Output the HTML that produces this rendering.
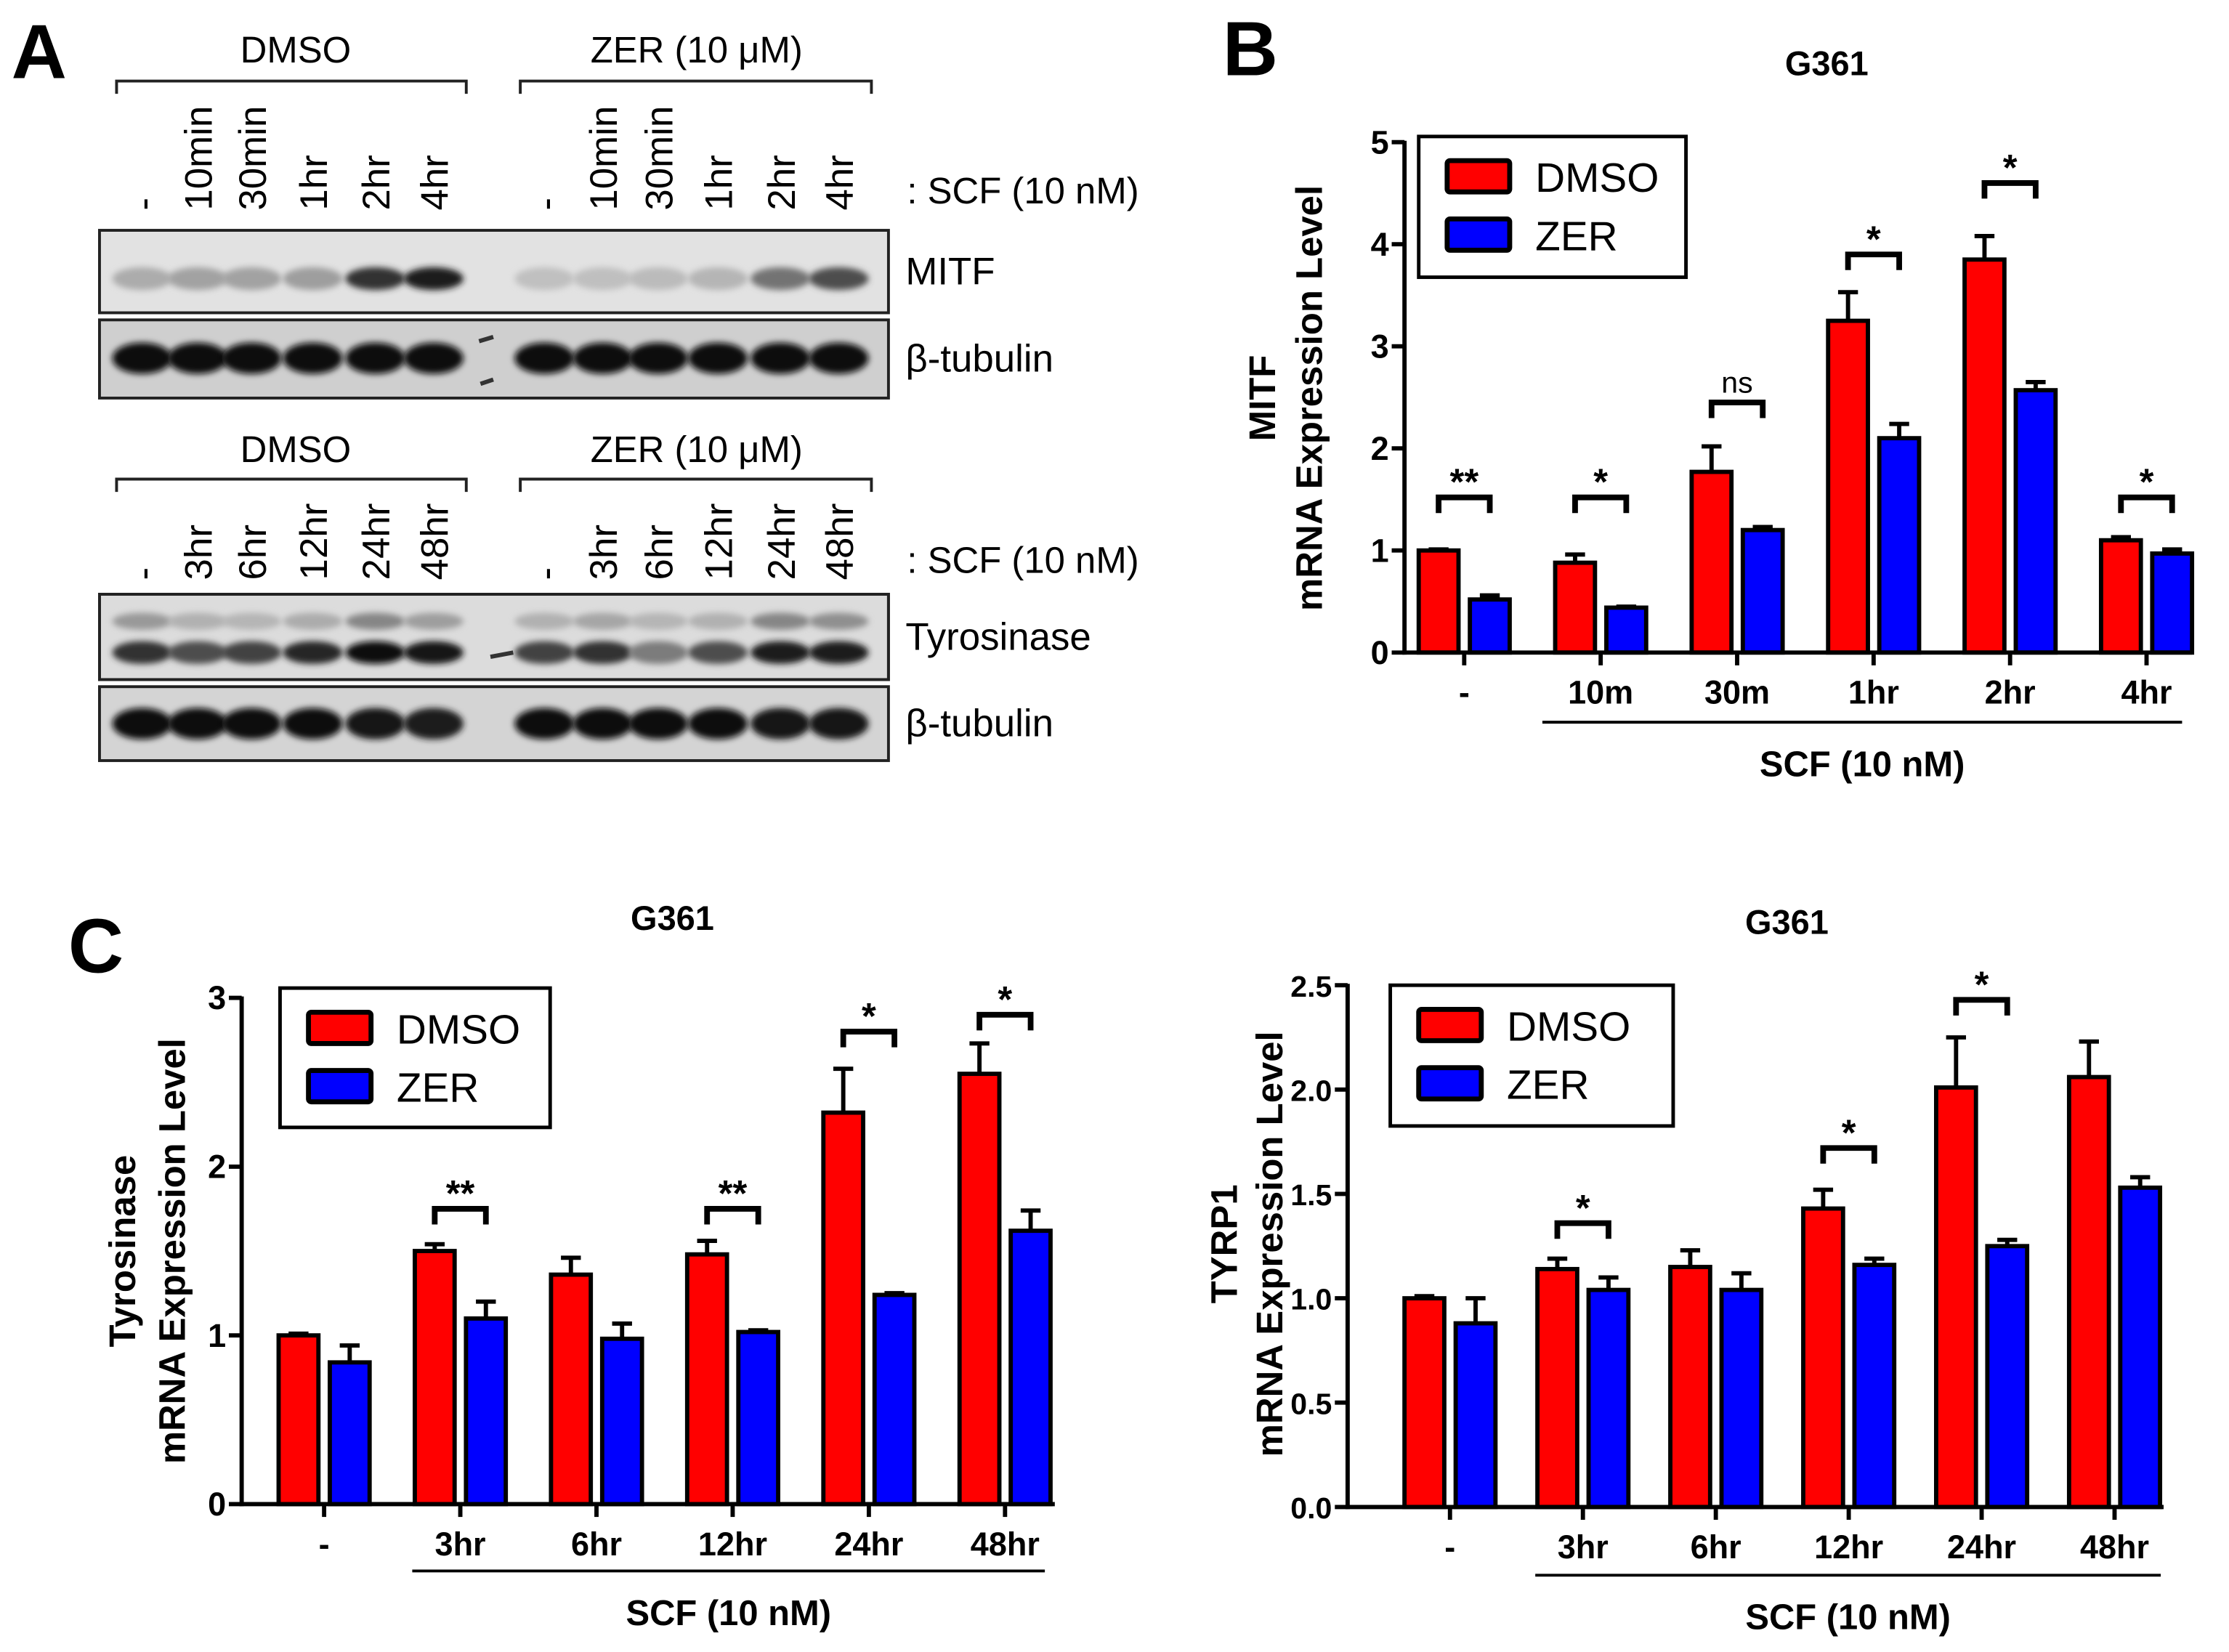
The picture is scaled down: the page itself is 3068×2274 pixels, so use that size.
<!DOCTYPE html>
<html><head><meta charset="utf-8">
<style>
html,body{margin:0;padding:0;background:#fff;}
svg{display:block;}
text{font-family:"Liberation Sans",Arial,sans-serif;}
</style></head>
<body>
<svg id="fig" width="3068" height="2274" viewBox="0 0 1568 1162" preserveAspectRatio="none" xmlns="http://www.w3.org/2000/svg">
<defs>
<filter id="blur" x="-20%" y="-50%" width="140%" height="200%"><feGaussianBlur stdDeviation="2.2"/></filter>
</defs>
<rect width="1568" height="1162" fill="#fff"/>
<g id="panelA"></g>
<g id="panelB"></g>
<g id="panelC1"></g>
<g id="panelC2"></g>
</svg>
<script>
// ---- Chart data ----
const mitfCategories = ["-", "10m", "30m", "1hr", "2hr", "4hr"];
const mitfDmso = [1.0, 0.88, 1.77, 3.25, 3.85, 1.10];
const mitfDmsoErr = [0.01, 0.08, 0.25, 0.28, 0.23, 0.03];
const mitfZer = [0.52, 0.44, 1.20, 2.10, 2.57, 0.97];
const mitfZerErr = [0.04, 0.01, 0.03, 0.14, 0.08, 0.04];
const mitfSigLabels = ["**", "*", "ns", "*", "*", "*"];
const mitfSigLevels = [1.52, 1.52, 2.45, 3.9, 4.6, 1.52];
const mitfTicks = ["0", "1", "2", "3", "4", "5"];
const mitfTickValues = [0, 1, 2, 3, 4, 5];

const tyrCategories = ["-", "3hr", "6hr", "12hr", "24hr", "48hr"];
const tyrDmso = [1.0, 1.50, 1.36, 1.48, 2.32, 2.55];
const tyrDmsoErr = [0.01, 0.04, 0.10, 0.08, 0.26, 0.18];
const tyrZer = [0.84, 1.10, 0.98, 1.02, 1.24, 1.62];
const tyrZerErr = [0.10, 0.10, 0.09, 0.01, 0.01, 0.12];
const tyrSigLabels = ["", "**", "", "**", "*", "*"];
const tyrSigLevels = [0, 1.75, 0, 1.75, 2.8, 2.9];
const tyrTicks = ["0", "1", "2", "3"];
const tyrTickValues = [0, 1, 2, 3];

const trpCategories = ["-", "3hr", "6hr", "12hr", "24hr", "48hr"];
const trpDmso = [1.0, 1.14, 1.15, 1.43, 2.01, 2.06];
const trpDmsoErr = [0.01, 0.05, 0.08, 0.09, 0.24, 0.17];
const trpZer = [0.88, 1.04, 1.04, 1.16, 1.25, 1.53];
const trpZerErr = [0.12, 0.06, 0.08, 0.03, 0.03, 0.05];
const trpSigLabels = ["", "*", "", "*", "*", ""];
const trpSigLevels = [0, 1.36, 0, 1.72, 2.43, 0];
const trpTicks = ["0.0", "0.5", "1.0", "1.5", "2.0", "2.5"];
const trpTickValues = [0, 0.5, 1.0, 1.5, 2.0, 2.5];

// blot band intensities (0..1)
const mitfBands = [0.15,0.2,0.2,0.22,0.8,0.9, 0.04,0.05,0.07,0.1,0.45,0.65];
const tubBands1 = [1,1,1,1,1,1, 1,1,1,1,1,1];
const tyrUpper = [0.25,0.12,0.1,0.15,0.35,0.22, 0.12,0.18,0.1,0.12,0.35,0.3];
const tyrLower = [0.8,0.65,0.7,0.85,1,0.95, 0.7,0.8,0.4,0.65,0.9,0.9];
const tubBands2 = [1,1,1,1,0.95,0.9, 1,1,1,1,0.95,0.95];
const lanes1 = ["-","10min","30min","1hr","2hr","4hr","-","10min","30min","1hr","2hr","4hr"];
const lanes2 = ["-","3hr","6hr","12hr","24hr","48hr","-","3hr","6hr","12hr","24hr","48hr"];

const NS = "http://www.w3.org/2000/svg";
function mk(parent, tag, attrs, txt){
  const e = document.createElementNS(NS, tag);
  for (const k in attrs) e.setAttribute(k, attrs[k]);
  if (txt !== undefined) e.textContent = txt;
  parent.appendChild(e);
  return e;
}

// ---- Panel A ----
const A = document.getElementById('panelA');
let t = mk(A,'text',{x:8,y:55,'font-size':54,'font-weight':'bold'},'A');


const laneX = [100,139,177,220,264,305, 383,424,463,505,549,590];
function groupHeader(y, bracketY){
  [[208,82,328,'DMSO'],[490,366,613,'ZER (10 μM)']].forEach(g=>{
    let tx = mk(A,'text',{x:g[0],y:y,'font-size':26,'text-anchor':'middle'},g[3]);
    
    
    let p = mk(A,'path',{d:`M${g[1]} ${bracketY+9} V${bracketY} H${g[2]} V${bracketY+9}`,fill:'none',stroke:'#222','stroke-width':2});
    
    
  });
}
function laneLabels(labels, baseY, scfY){
  labels.forEach((l,i)=>{
    let tx = mk(A,'text',{x:0,y:0,'font-size':27,transform:`translate(${laneX[i]+10},${baseY}) rotate(-90)`},l);
    
    
  });
  let s = mk(A,'text',{x:638,y:scfY,'font-size':26},': SCF (10 nM)');
  
  
}
function blot(y, h, bands, bandY, bandH, name, label, bg){
  let r = mk(A,'rect',{x:70,y:y,width:555,height:h,fill:bg,stroke:'#222','stroke-width':2});
  
  
  bands.forEach((v,i)=>{
    const c = Math.round(200 - v*190);
    let b = mk(A,'ellipse',{cx:laneX[i],cy:bandY,rx:21,ry:bandH,fill:`rgb(${c},${c},${c})`,filter:'url(#blur)'});
    
    
  });
  if(label){
    let tx = mk(A,'text',{x:637,y:y+h/2+9,'font-size':27},label);
    
    
  }
}
groupHeader(44,57);
laneLabels(lanes1,148,143);
blot(162,58,mitfBands,196,8,'mitf','MITF','#e2e2e2');
blot(225,55,tubBands1,252,11,'tubulin-1','β-tubulin','#cfcfcf');
groupHeader(325,337);
laneLabels(lanes2,408,403);
blot(418,60,tyrUpper,437,6,'tyrosinase-upper',null,'#dcdcdc');
blot(418,60,tyrLower,459,8,'tyrosinase','Tyrosinase','none');
blot(483,52,tubBands2,509,11,'tubulin-2','β-tubulin','#d4d4d4');
mk(A,'path',{d:'M337 240 l10 -3 M338 270 l9 -3 M345 462 l16 -3',stroke:'#333','stroke-width':3});

// ---- Bar charts ----
function chart(g, o){
  const y = v => o.y0 - v*o.ppu;
  const cx = i => o.c0 + i*o.step;
  const bw = 28, gap = 8;
  let tt = mk(g,'text',{x:o.titleX,y:o.titleY,'font-size':24,'font-weight':'bold','text-anchor':'middle'},'G361');
  
  
  if(o.panel){
    let pl = mk(g,'text',{x:o.panel[0],y:o.panel[1],'font-size':54,'font-weight':'bold'},o.panel[2]);
    
    
  }
  let yl1 = mk(g,'text',{x:0,y:0,'font-size':26,'font-weight':'bold','text-anchor':'middle',transform:`translate(${o.ylx1},${o.ylY}) rotate(-90)`},o.ylabel);
  
  
  let yl2 = mk(g,'text',{x:0,y:0,'font-size':26,'font-weight':'bold','text-anchor':'middle',transform:`translate(${o.ylx2},${o.ylY}) rotate(-90)`},'mRNA Expression Level');
  
  
  o.cats.forEach((c,i)=>{
    const rx = cx(i) - gap/2 - bw, bx = cx(i) + gap/2;
    [[rx,o.d[i],o.de[i],'#ff0000','bar-dmso-'+i],[bx,o.z[i],o.ze[i],'#0000ff','bar-zer-'+i]].forEach(b=>{
      let eb = mk(g,'path',{d:`M${b[0]+bw/2} ${y(b[1])} V${y(b[1]+b[2])} M${b[0]+bw/2-7} ${y(b[1]+b[2])} H${b[0]+bw/2+7}`,stroke:'#000','stroke-width':3,fill:'none'});
      
      
      let r = mk(g,'rect',{x:b[0],y:y(b[1]),width:bw,height:b[1]*o.ppu,fill:b[3],stroke:'#000','stroke-width':3});
      
      
    });
    mk(g,'line',{x1:cx(i),y1:o.y0,x2:cx(i),y2:o.y0+9,stroke:'#000','stroke-width':3});
    let xl = mk(g,'text',{x:cx(i),y:o.y0+36,'font-size':23,'font-weight':'bold','text-anchor':'middle'},c);
    
    
    if(o.sl[i]){
      const sy = y(o.sv[i]), a = cx(i)-gap/2-bw/2, bb = cx(i)+gap/2+bw/2;
      let br = mk(g,'path',{d:`M${a} ${sy+11} V${sy} H${bb} V${sy+11}`,stroke:'#000','stroke-width':4,fill:'none'});
      
      
      const isNs = o.sl[i]==='ns';
      let st = mk(g,'text',{x:(a+bb)/2,y:sy-(isNs?7:2),'font-size':isNs?21:26,'font-weight':isNs?'normal':'bold','text-anchor':'middle'},o.sl[i]);
      
      
    }
  });
  let ya = mk(g,'line',{x1:o.ax,y1:o.y0+1.5,x2:o.ax,y2:y(o.tv[o.tv.length-1])-1,stroke:'#000','stroke-width':3});
  
  
  let xa = mk(g,'line',{x1:o.ax-1.5,y1:o.y0,x2:o.xend,y2:o.y0,stroke:'#000','stroke-width':3});
  
  
  o.tv.forEach((v,i)=>{
    mk(g,'line',{x1:o.ax-9,y1:y(v),x2:o.ax,y2:y(v),stroke:'#000','stroke-width':3});
    let tl = mk(g,'text',{x:o.ax-11,y:y(v)+8,'font-size':o.tfs||23,'font-weight':'bold','text-anchor':'end'},o.tl[i]);
    
    
  });
  let ul = mk(g,'line',{x1:o.ul[0],y1:o.ul[2],x2:o.ul[1],y2:o.ul[2],stroke:'#000','stroke-width':2});
  
  
  let sc = mk(g,'text',{x:(o.ul[0]+o.ul[1])/2,y:o.ul[2]+38,'font-size':25,'font-weight':'bold','text-anchor':'middle'},'SCF (10 nM)');
  
  
  const L = o.leg;
  let lb = mk(g,'rect',{x:L[0],y:L[1],width:L[2],height:L[3],fill:'#fff',stroke:'#000','stroke-width':2.5});
  
  
  [['DMSO','#ff0000',0],['ZER','#0000ff',1]].forEach(e=>{
    const ey = L[1] + 29 + e[2]*41;
    let sw = mk(g,'rect',{x:L[0]+20,y:ey-12,width:44,height:22,fill:e[1],stroke:'#000','stroke-width':3.5,rx:2});
    
    
    let lt = mk(g,'text',{x:L[0]+82,y:ey+10,'font-size':29},e[0]);
    
    
  });
}

chart(document.getElementById('panelB'),{
  cats:mitfCategories,d:mitfDmso,de:mitfDmsoErr,z:mitfZer,ze:mitfZerErr,sl:mitfSigLabels,sv:mitfSigLevels,tl:mitfTicks,tv:mitfTickValues,
  ax:988,y0:459,ppu:71.8,c0:1030,step:96,xend:1542,titleX:1285,titleY:53,panel:[860,53,'B'],
  ylabel:'MITF',ylx1:897,ylx2:930,ylY:280,ul:[1085,1535,508],leg:[998,96,188,99]
});
chart(document.getElementById('panelC1'),{
  cats:tyrCategories,d:tyrDmso,de:tyrDmsoErr,z:tyrZer,ze:tyrZerErr,sl:tyrSigLabels,sv:tyrSigLevels,tl:tyrTicks,tv:tyrTickValues,
  ax:170,y0:1058,ppu:118.7,c0:228,step:95.8,xend:742,titleX:473,titleY:654,panel:[48,684,'C'],
  ylabel:'Tyrosinase',ylx1:95,ylx2:130,ylY:880,ul:[290,735,1105],leg:[197,695,190,98]
});
chart(document.getElementById('panelC2'),{
  cats:trpCategories,d:trpDmso,de:trpDmsoErr,z:trpZer,ze:trpZerErr,sl:trpSigLabels,sv:trpSigLevels,tl:trpTicks,tv:trpTickValues,tfs:21,
  ax:948,y0:1060,ppu:146.8,c0:1020,step:93.5,xend:1522,titleX:1257,titleY:657,panel:null,
  ylabel:'TYRP1',ylx1:870,ylx2:902,ylY:875,ul:[1080,1520,1108],leg:[978,693,199,99]
});
</script>
</body></html>
